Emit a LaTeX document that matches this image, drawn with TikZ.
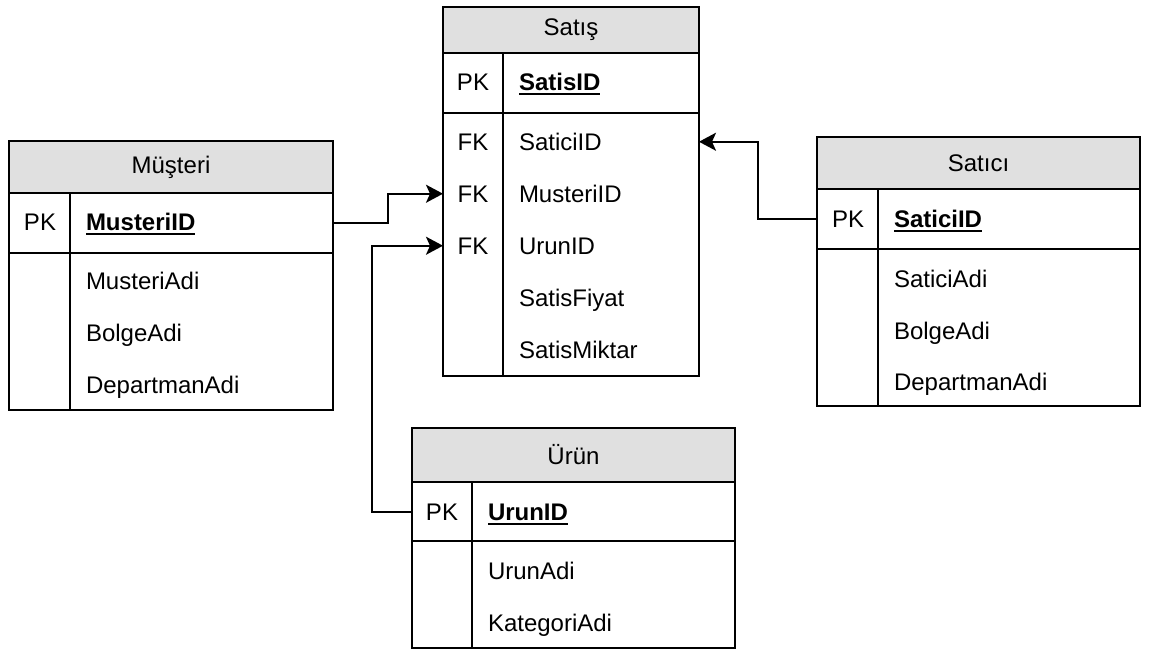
\documentclass[tikz,border=0pt]{standalone}
\usepackage{fontspec}
\setmainfont{Liberation Sans}
\usetikzlibrary{arrows.meta}
\definecolor{headgray}{RGB}{224,224,224}
\newsavebox\keybox
% bold key name with a thick underline
\newcommand\keyname[1]{\sbox\keybox{\bfseries #1}\usebox\keybox\llap{\rule[-4.5pt]{\wd\keybox}{2pt}}}
\begin{document}
\begin{tikzpicture}[x=1pt,y=-1pt,line width=2pt,
  cell/.style={draw,rectangle,inner sep=0pt,outer sep=0pt,anchor=north west,
               font=\fontsize{24}{28}\selectfont},
  head/.style={cell,fill=headgray},
  txt/.style={inner sep=0pt,anchor=base west,font=\fontsize{24}{28}\selectfont},
  tag/.style={inner sep=0pt,anchor=base,font=\fontsize{24}{28}\selectfont},
  conn/.style={draw,line width=2pt,-{Stealth[length=17pt,width=18pt,inset=4pt]}}]
\useasboundingbox (0,0) rectangle (1149,650);

% ---------- Satış ----------
\node[head,minimum width=256,minimum height=46] (satisH) at (443,7) {Satış};
\node[cell,minimum width=256,minimum height=60] (satisPK) at (443,53) {};
\node[cell,minimum width=256,minimum height=263] (satisB) at (443,113) {};
\draw ([xshift=60]satisPK.north west) -- ([xshift=60]satisB.south west);
\node[tag] (pk1) at (473,91) {PK};
\node[txt] (satisK) at (518,91) {\keyname{SatisID}};
\node[tag] (fk1) at (473,150) {FK};
\node[txt] (sa1) at (518,150) {SaticiID};
\node[tag] (fk2) at (473,202) {FK};
\node[txt] (sa2) at (518,202) {MusteriID};
\node[tag] (fk3) at (473,254) {FK};
\node[txt] (sa3) at (518,254) {UrunID};
\node[txt] (sa4) at (518,306) {SatisFiyat};
\node[txt] (sa5) at (518,358) {SatisMiktar};

% ---------- Müşteri ----------
\node[head,minimum width=324,minimum height=52] (musH) at (9,141) {Müşteri};
\node[cell,minimum width=324,minimum height=60] (musPK) at (9,193) {};
\node[cell,minimum width=324,minimum height=157] (musB) at (9,253) {};
\draw ([xshift=61]musPK.north west) -- ([xshift=61]musB.south west);
\node[tag] (pk2) at (40,230) {PK};
\node[txt] (musK) at (85,230) {\keyname{MusteriID}};
\node[txt] (mu1) at (85,289) {MusteriAdi};
\node[txt] (mu2) at (85,341) {BolgeAdi};
\node[txt] (mu3) at (85,393) {DepartmanAdi};

% ---------- Satıcı ----------
\node[head,minimum width=323,minimum height=52] (satH) at (817,137) {Satıcı};
\node[cell,minimum width=323,minimum height=60] (satPK) at (817,189) {};
\node[cell,minimum width=323,minimum height=157] (satB) at (817,249) {};
\draw ([xshift=61]satPK.north west) -- ([xshift=61]satB.south west);
\node[tag] (pk3) at (848,227) {PK};
\node[txt] (satK) at (893,227) {\keyname{SaticiID}};
\node[txt] (st1) at (893,287) {SaticiAdi};
\node[txt] (st2) at (893,339) {BolgeAdi};
\node[txt] (st3) at (893,390) {DepartmanAdi};

% ---------- Ürün ----------
\node[head,minimum width=323,minimum height=54] (urunH) at (412,428) {Ürün};
\node[cell,minimum width=323,minimum height=59] (urunPK) at (412,482) {};
\node[cell,minimum width=323,minimum height=107] (urunB) at (412,541) {};
\draw ([xshift=60]urunPK.north west) -- ([xshift=60]urunB.south west);
\node[tag] (pk4) at (442,520) {PK};
\node[txt] (urunK) at (487,520) {\keyname{UrunID}};
\node[txt] (ur1) at (487,579) {UrunAdi};
\node[txt] (ur2) at (487,631) {KategoriAdi};

% ---------- relations ----------
\draw[conn] (musPK.east) -- ++(55,0) |- (satisB.west |- fk2.center);
\draw[conn] (urunPK.west) -- ++(-40,0) |- (satisB.west |- fk3.center);
\draw[conn] (satPK.west) -- ++(-59,0) |- (satisB.east |- fk1.center);
\end{tikzpicture}
\end{document}
